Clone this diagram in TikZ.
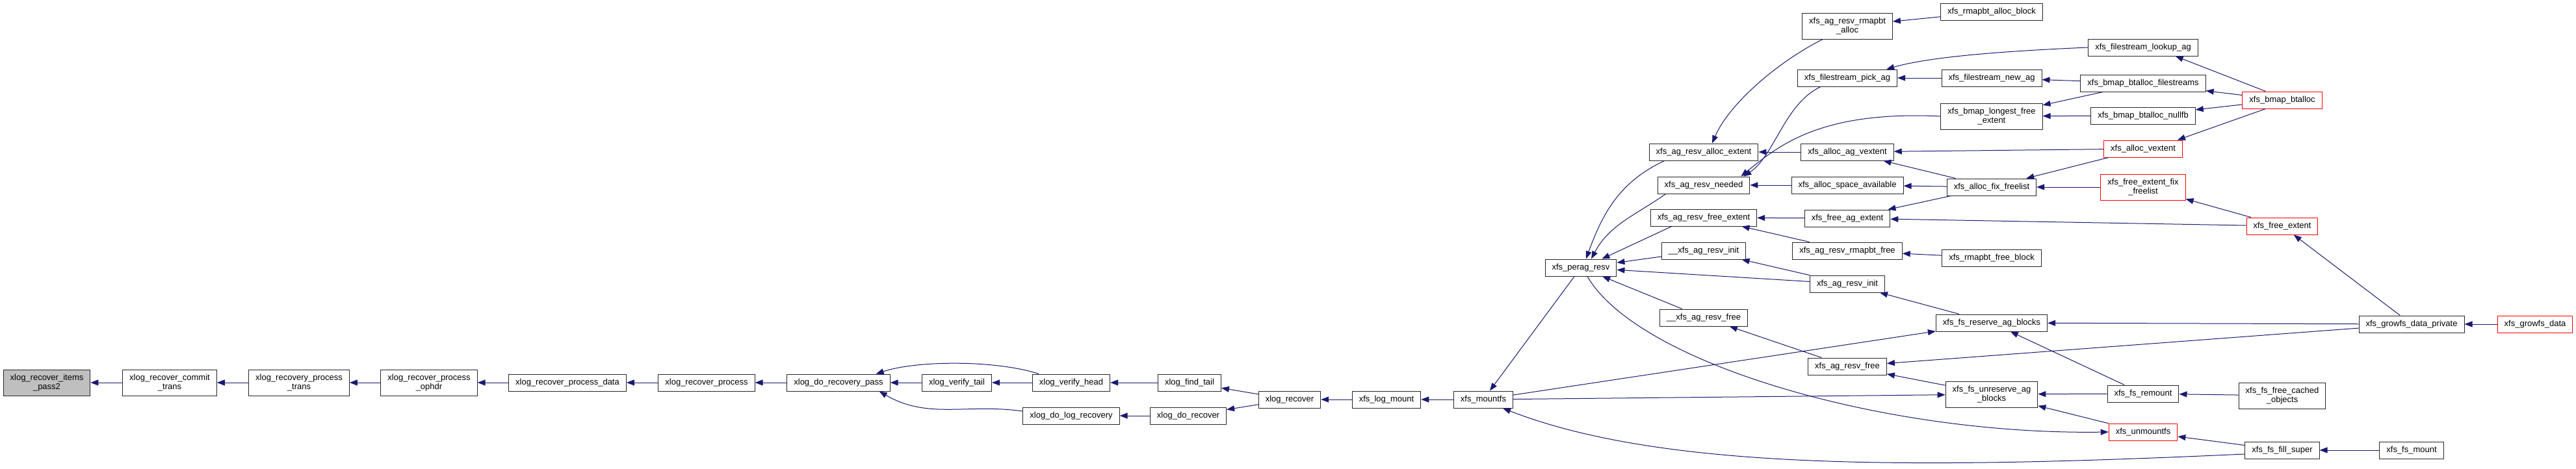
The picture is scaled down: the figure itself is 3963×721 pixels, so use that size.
\documentclass[tikz,border=0pt]{standalone}
\usepackage{fontspec}
\setmainfont{Liberation Sans}
\usetikzlibrary{arrows.meta,calc}
\definecolor{edgeblue}{HTML}{191970}
\definecolor{rootgray}{HTML}{BFBFBF}
\begin{document}
\begin{tikzpicture}[x=1pt,y=1pt,
  fn/.style={draw=black!85, line width=1pt, fill=white, font=\fontsize{13}{14.3}\selectfont, inner xsep=10.5pt, inner ysep=2pt, minimum height=26pt, align=center},
  twoline/.style={minimum height=40pt},
  redfn/.style={draw=red},
  rootfn/.style={fill=rootgray},
  calls/.style={draw=edgeblue, line width=1pt, -{Triangle[length=12pt,width=9pt]}}
]
\fill[white] (0,0) rectangle (3963,-721);
\useasboundingbox (0,0) rectangle (3963,-721);
% left chain
\node[fn,twoline,rootfn] (n1) at (72,-589) {xlog\_recover\_items\\\_pass2};
\node[fn,twoline] (n2) at (261,-589) {xlog\_recover\_commit\\\_trans};
\node[fn,twoline] (n3) at (460,-589) {xlog\_recovery\_process\\\_trans};
\node[fn,twoline] (n4) at (660,-589) {xlog\_recover\_process\\\_ophdr};
\node[fn] (n5) at (873,-589) {xlog\_recover\_process\_data};
\node[fn] (n6) at (1087,-589) {xlog\_recover\_process};
\node[fn] (n7) at (1290,-589) {xlog\_do\_recovery\_pass};
\node[fn] (n8) at (1472,-589) {xlog\_verify\_tail};
\node[fn] (n9) at (1648,-589) {xlog\_verify\_head};
\node[fn] (n10) at (1830,-589) {xlog\_find\_tail};
\node[fn] (n11) at (1648,-640) {xlog\_do\_log\_recovery};
\node[fn] (n12) at (1828,-640) {xlog\_do\_recover};
\node[fn] (n13) at (1984,-615) {xlog\_recover};
\node[fn] (n14) at (2133,-615) {xfs\_log\_mount};
\node[fn] (n15) at (2282,-615) {xfs\_mountfs};
\node[fn] (n16) at (2432,-412) {xfs\_perag\_resv};
% column 2621
\node[fn] (n17) at (2621,-234) {xfs\_ag\_resv\_alloc\_extent};
\node[fn] (n18) at (2621,-285) {xfs\_ag\_resv\_needed};
\node[fn] (n19) at (2621,-335) {xfs\_ag\_resv\_free\_extent};
\node[fn] (n20) at (2621,-386) {\_\_xfs\_ag\_resv\_init};
\node[fn] (n21) at (2621,-489) {\_\_xfs\_ag\_resv\_free};
% column 2842
\node[fn,twoline] (n22) at (2842,-40) {xfs\_ag\_resv\_rmapbt\\\_alloc};
\node[fn] (n23) at (2842,-120) {xfs\_filestream\_pick\_ag};
\node[fn] (n24) at (2842,-234) {xfs\_alloc\_ag\_vextent};
\node[fn] (n25) at (2842,-285) {xfs\_alloc\_space\_available};
\node[fn] (n26) at (2842,-336) {xfs\_free\_ag\_extent};
\node[fn] (n27) at (2842,-386) {xfs\_ag\_resv\_rmapbt\_free};
\node[fn] (n28) at (2842,-437) {xfs\_ag\_resv\_init};
\node[fn] (n29) at (2842,-564) {xfs\_ag\_resv\_free};
% column 3064
\node[fn] (n30) at (3064,-18) {xfs\_rmapbt\_alloc\_block};
\node[fn] (n31) at (3064,-120) {xfs\_filestream\_new\_ag};
\node[fn,twoline] (n32) at (3064,-179) {xfs\_bmap\_longest\_free\\\_extent};
\node[fn] (n33) at (3064,-288) {xfs\_alloc\_fix\_freelist};
\node[fn] (n34) at (3064,-397) {xfs\_rmapbt\_free\_block};
\node[fn] (n35) at (3064,-497) {xfs\_fs\_reserve\_ag\_blocks};
\node[fn,twoline] (n36) at (3064,-607) {xfs\_fs\_unreserve\_ag\\\_blocks};
% column 3297
\node[fn] (n37) at (3297,-73) {xfs\_filestream\_lookup\_ag};
\node[fn] (n38) at (3297,-128) {xfs\_bmap\_btalloc\_filestreams};
\node[fn] (n39) at (3297,-178) {xfs\_bmap\_btalloc\_nullfb};
\node[fn,redfn] (n40) at (3297,-229) {xfs\_alloc\_vextent};
\node[fn,twoline,redfn] (n41) at (3297,-288) {xfs\_free\_extent\_fix\\\_freelist};
\node[fn] (n42) at (3297,-606) {xfs\_fs\_remount};
\node[fn,redfn] (n43) at (3297,-665) {xfs\_unmountfs};
% column 3511
\node[fn,redfn] (n44) at (3511,-154) {xfs\_bmap\_btalloc};
\node[fn,redfn] (n45) at (3511,-348) {xfs\_free\_extent};
\node[fn,twoline] (n46) at (3511,-609) {xfs\_fs\_free\_cached\\\_objects};
\node[fn] (n47) at (3511,-693) {xfs\_fs\_fill\_super};
% columns 3710 / 3900
\node[fn] (n48) at (3710,-499) {xfs\_growfs\_data\_private};
\node[fn] (n49) at (3710,-693) {xfs\_fs\_mount};
\node[fn,redfn] (n50) at (3900,-499) {xfs\_growfs\_data};

% edges: caller -> callee
\draw[calls] (n2) -- (n1);
\draw[calls] (n3) -- (n2);
\draw[calls] (n4) -- (n3);
\draw[calls] (n5) -- (n4);
\draw[calls] (n6) -- (n5);
\draw[calls] (n7) -- (n6);
\draw[calls] (n8) -- (n7);
\draw[calls] ($(n9.north west)+(10,0)$) to[out=162,in=18,looseness=0.7] ($(n7.north east)+(-22,0)$);
\draw[calls] ($(n11.west)+(0,7)$) to[out=172,in=-30] ($(n7.south east)+(-17,0)$);
\draw[calls] (n9) -- (n8);
\draw[calls] (n10) -- (n9);
\draw[calls] (n12) -- (n11);
\draw[calls] (n13) -- (n10);
\draw[calls] (n13) -- (n12);
\draw[calls] (n14) -- (n13);
\draw[calls] (n15) -- (n14);

\draw[calls] (n16) -- (n15);
\draw[calls] ($(n17.south west)+(24,0)$) to[out=205,in=70] ($(n16.north)+(8,0)$);
\draw[calls] ($(n18.south west)+(13,0)$) to[out=215,in=62] ($(n16.north)+(16,0)$);
\draw[calls] ($(n19.south west)+(33,0)$) -- ($(n16.north east)+(-23,0)$);
\draw[calls] (n20) -- (n16);
\draw[calls] (n21) -- (n16);
\draw[calls] (n28) -- (n16);
\draw[calls] ($(n16.south)+(10,0)$) .. controls (2520,-560) and (2900,-670) .. (n43.west);

\draw[calls] (n15) -- (n35);
\draw[calls] (n15) -- (n36);
\draw[calls] ($(n47.west)+(0,-6)$) .. controls (2950,-722) and (2560,-725) .. ($(n15.south east)+(-16,0)$);
\draw[calls] (n47) -- (n43);

\draw[calls] ($(n22.south west)+(32,0)$) .. controls (2735,-95) and (2660,-160) .. ($(n17.north)+(13,0)$);
\draw[calls] (n24) -- (n17);
\draw[calls] ($(n23.south west)+(36,0)$) .. controls (2745,-160) and (2730,-240) .. ($(n18.north east)+(-10,0)$);
\draw[calls] (n32.west) .. controls (2800,-170) and (2735,-225) .. ($(n18.north east)+(-14,0)$);
\draw[calls] (n25) -- (n18);
\draw[calls] (n26) -- (n19);
\draw[calls] (n27) -- (n19);
\draw[calls] (n28) -- (n20);
\draw[calls] (n29) -- (n21);
\draw[calls] (n30) -- (n22);
\draw[calls] (n37.west) .. controls (3050,-80) and (2960,-90) .. ($(n23.north east)+(-17,0)$);
\draw[calls] (n31) -- (n23);
\draw[calls] (n40) -- (n24);
\draw[calls] (n33) -- (n24);
\draw[calls] (n33) -- (n25);
\draw[calls] (n33) -- (n26);
\draw[calls] (n45) -- (n26);
\draw[calls] (n34) -- (n27);
\draw[calls] (n35) -- (n28);
\draw[calls] (n48) -- (n29);
\draw[calls] (n36) -- (n29);
\draw[calls] (n38) -- (n31);
\draw[calls] (n38) -- (n32);
\draw[calls] (n39) -- (n32);
\draw[calls] (n41) -- (n33);
\draw[calls] (n40) -- (n33);
\draw[calls] (n48) -- (n35);
\draw[calls] (n42) -- (n35);
\draw[calls] (n42) -- (n36);
\draw[calls] (n43) -- (n36);
\draw[calls] ($(n44.north west)+(36,0)$) -- ($(n37.south east)+(-35,0)$);
\draw[calls] (n44) -- (n38);
\draw[calls] (n44) -- (n39);
\draw[calls] ($(n44.south west)+(36,0)$) -- ($(n40.north east)+(-8,0)$);
\draw[calls] (n45) -- (n41);
\draw[calls] (n46) -- (n42);
\draw[calls] (n48) -- (n45);
\draw[calls] (n50) -- (n48);
\draw[calls] (n49) -- (n47);
\end{tikzpicture}
\end{document}
